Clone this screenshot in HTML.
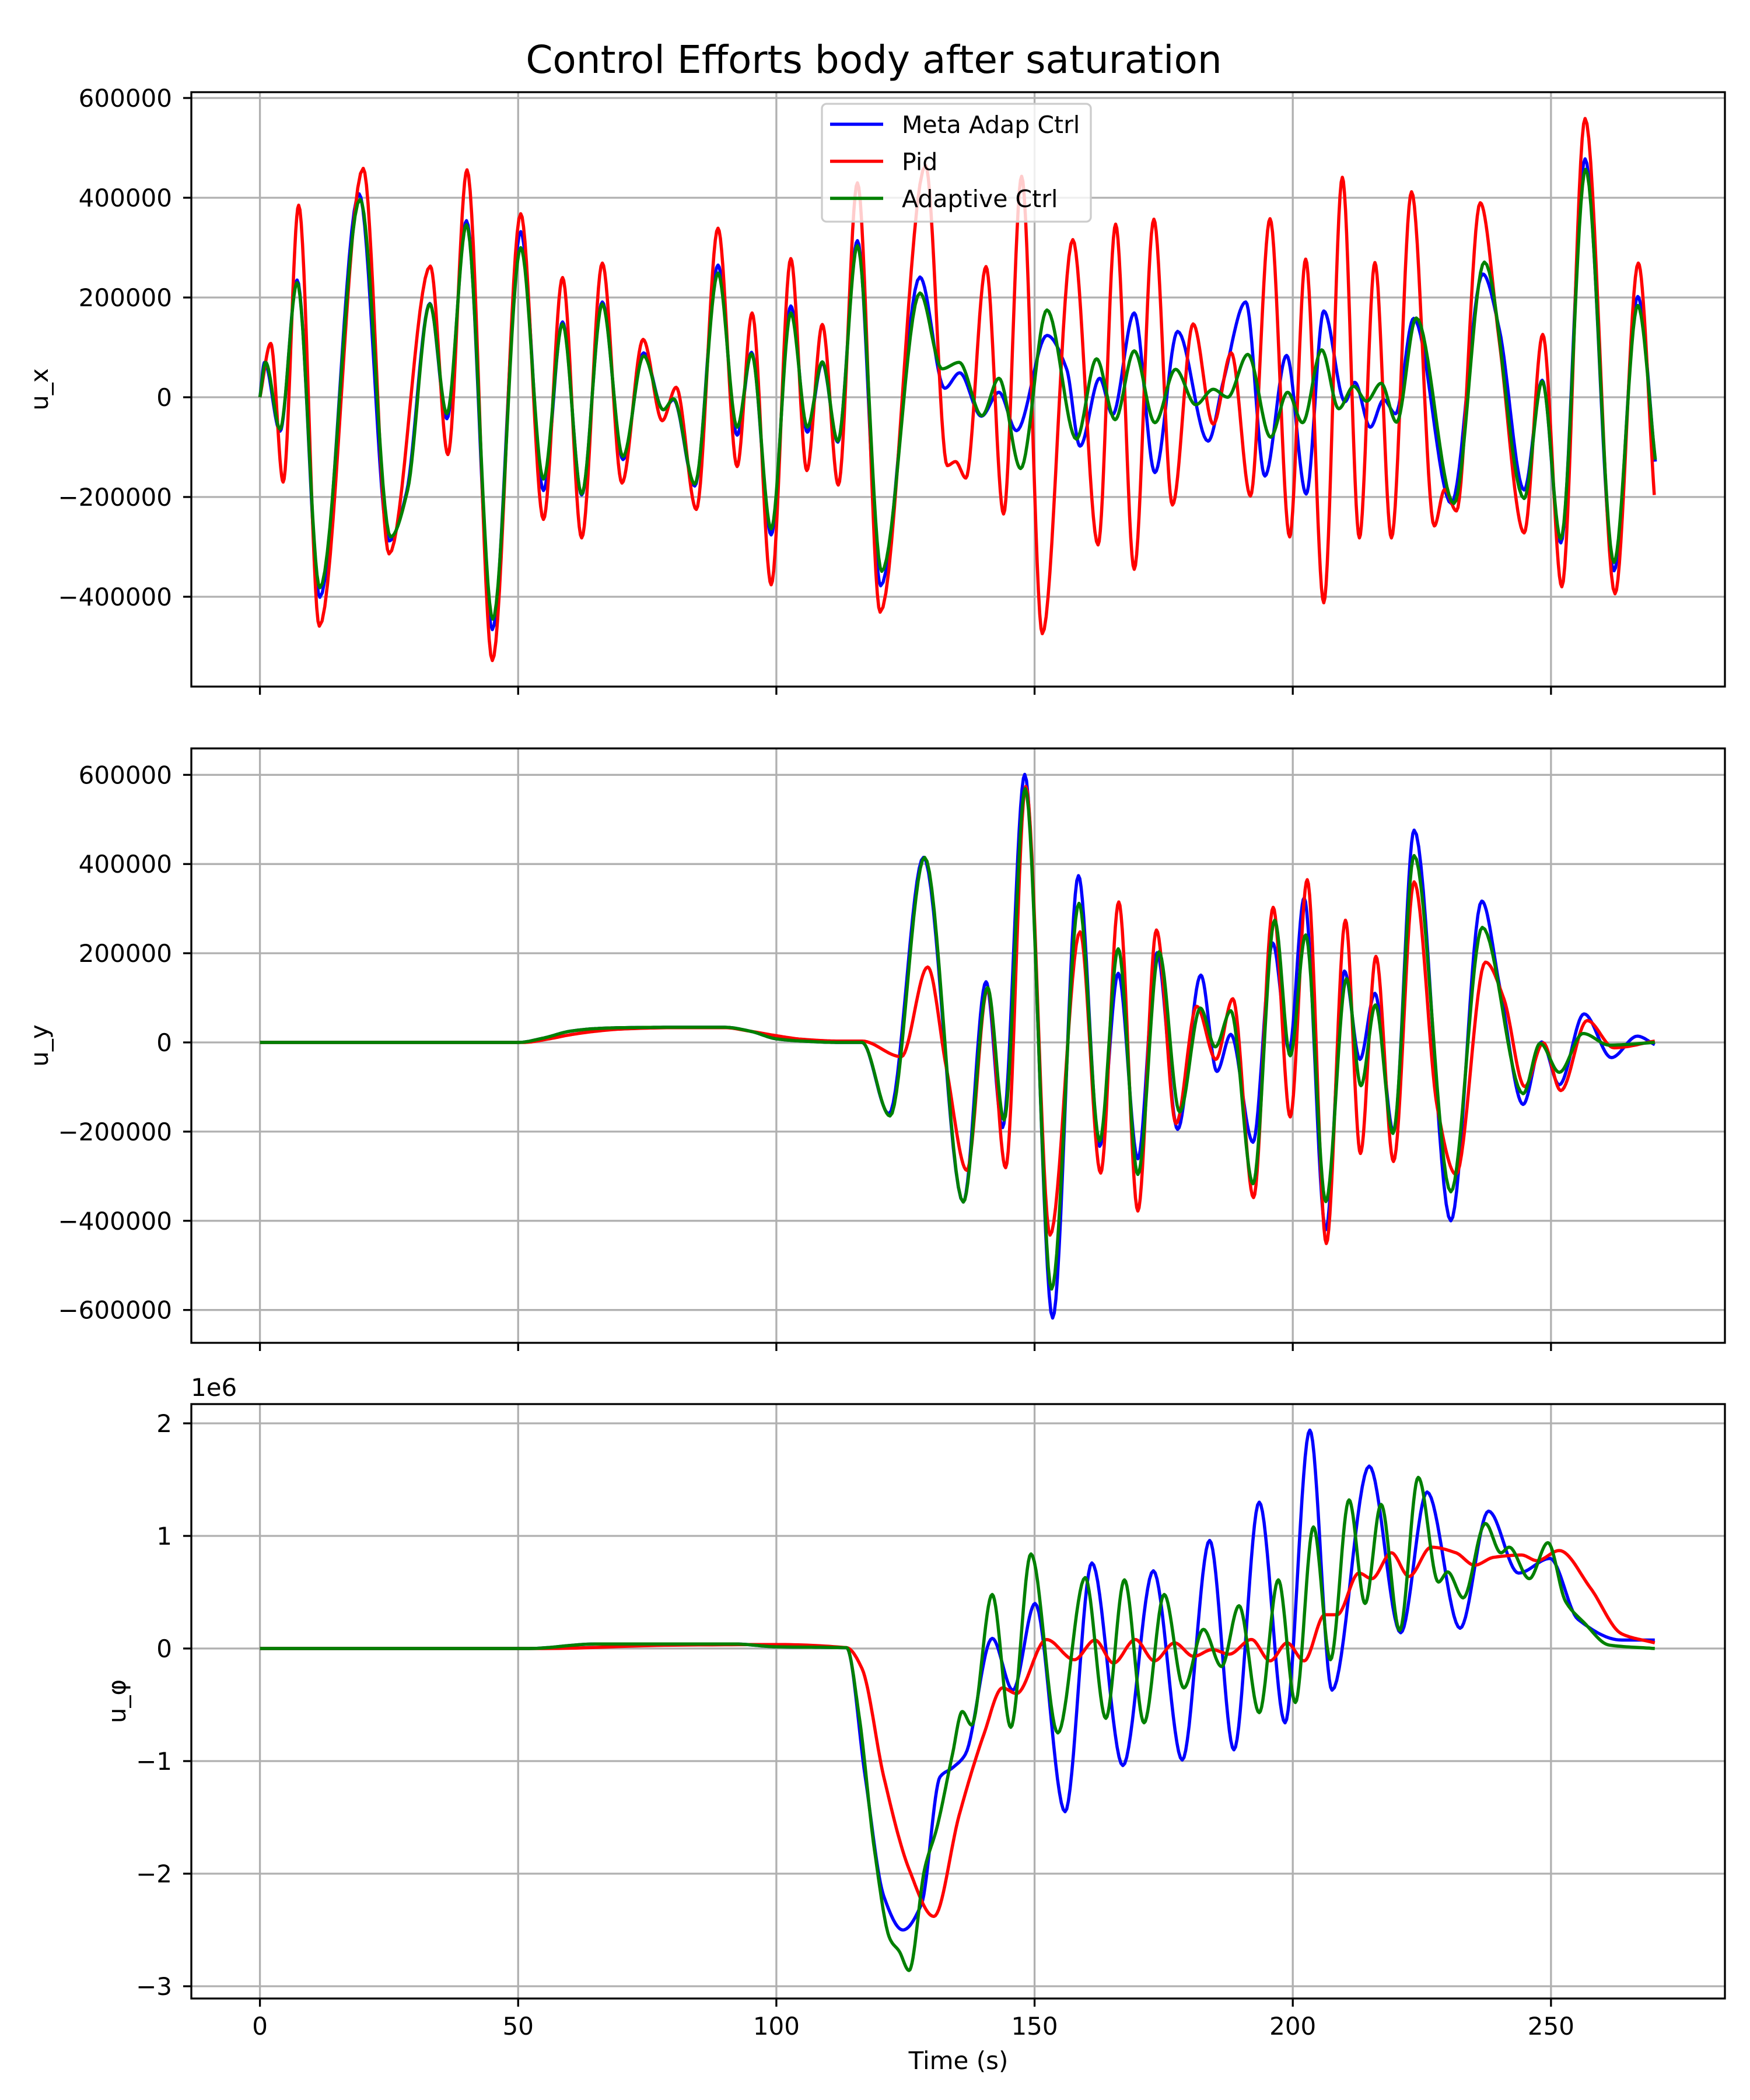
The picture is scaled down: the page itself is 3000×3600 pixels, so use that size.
<!DOCTYPE html>
<html><head><meta charset="utf-8">
<style>
html,body{margin:0;padding:0;background:#fff;}
svg{display:block;font-family:"DejaVu Sans","Liberation Sans",sans-serif;}
</style></head>
<body>
<svg id="fig" width="3000" height="3600" viewBox="0 0 3000 3600" xmlns="http://www.w3.org/2000/svg">
<rect width="3000" height="3600" fill="#fff"/>
<text x="1498" y="125" font-size="66" text-anchor="middle">Control Efforts body after saturation</text>
<g id="layer"></g>
</svg>
<script>
// ---------- time axis ticks ----------
const xTicks = [0, 50, 100, 150, 200, 250];

// ---------- panel 1 (u_x), values in thousands ----------
const uxTicks = [-400, -200, 0, 200, 400, 600];
const uxTickLabels = ["\u2212400000", "\u2212200000", "0", "200000", "400000", "600000"];
const uxMetaT = [0,0.9,3.9,7.2,11.6,19.2,25,28.4,32.9,36.2,40,45,50.5,54.9,58.6,62.3,66.3,70.3,74.3,78.1,80.1,84.2,88.7,92.4,95.2,99,102.8,106,108.9,111.9,115.7,120.2,127.8,132.6,135.5,139.7,143.1,146.5,152.4,156.2,158.8,162.6,165.1,169.3,173.3,177.7,183.6,186.6,190.9,194.6,198.8,202.6,206,210.1,212,215,217.6,219.9,223.4,230.7,236.8,240,244.8,248.3,251.9,256.6,262.2,266.8,270.2];
const uxMetaV = [0,70,-68,235,-401,408,-288,-190,188,-43,354,-466,332,-187,151,-196,191,-125,89,-25,-5,-178,265,-76,90,-276,183,-70,69,-90,314,-378,241,18,49,-38,10,-67,124,57,-98,38,-35,169,-151,132,-88,34,191,-158,84,-194,173,-9,30,-60,-5,-33,158,-213,247,136,-186,34,-292,478,-348,202,-129];
const uxPidT = [0,2.1,4.5,7.5,11.5,20,25,33,36.4,40.1,45,50.5,54.9,58.6,62.3,66.3,70.1,74.2,77.9,80.6,84.5,88.7,92.4,95.3,99,102.8,105.9,108.9,112,115.7,120.1,128.9,133.1,134.7,136.7,140.6,144,147.5,151.5,157.4,162.3,165.7,169.3,173.1,176.7,180.7,184.6,188.1,191.8,195.6,199.4,202.5,206,209.6,212.9,215.9,219.1,223,227.4,229.4,231.7,236.3,239.9,244.8,248.4,252.1,256.6,262.4,266.9,270];
const uxPidV = [0,108,-170,385,-459,459,-314,263,-115,456,-528,368,-245,240,-282,269,-172,116,-47,20,-225,339,-139,169,-376,278,-147,146,-176,430,-431,465,-137,-129,-162,262,-234,443,-474,316,-296,347,-345,357,-216,147,-54,89,-198,358,-280,277,-412,441,-282,270,-282,412,-258,-185,-228,390,120,-272,126,-380,559,-394,269,-196];
const uxAdaT = [0,1.1,3.9,7.2,11.6,19.4,25.3,28.6,32.9,36.2,40,45.1,50.5,54.9,58.6,62.3,66.3,70.3,74.3,78.1,80.1,84.2,88.7,92.4,95.2,99,102.8,106,108.9,111.9,115.7,120.4,127.8,132.1,135.4,139.8,143.1,147.3,152.4,158.1,162,165.6,169.3,173.3,177.3,181.2,184.6,187.4,191.3,195.7,199,201.9,205.6,208.9,211.8,214.3,217.1,220.1,223.9,231.2,237.1,244.8,248.3,251.9,256.7,262.2,266.8,270.2];
const uxAdaV = [0,70,-64,230,-382,397,-280,-186,187,-33,346,-445,300,-164,147,-194,187,-119,83,-25,-3,-174,249,-60,87,-264,169,-60,71,-88,304,-349,209,57,70,-37,38,-143,175,-84,77,-45,93,-51,56,-15,16,0,86,-80,10,-51,95,-23,22,-8,28,-50,159,-213,271,-203,32,-284,457,-331,184,-125];

// ---------- panel 2 (u_y), values in thousands ----------
const uyTicks = [-600, -400, -200, 0, 200, 400, 600];
const uyTickLabels = ["\u2212600000", "\u2212400000", "\u2212200000", "0", "200000", "400000", "600000"];
const uyMetaT = [0,50,55,60,65,70,80,90,95,100,105,112,116.6,121.8,128.5,136.2,140.6,143.8,148.1,153.5,158.5,162.6,166.2,170,173.7,177.7,182.2,185.3,188,192.3,196.1,199.3,202.2,206.4,210,213,215.9,219.5,223.5,230.6,236.6,240.1,244.6,248.2,251.6,256.4,261.7,266.7,270.1];
const uyMetaV = [0,0,10,25,31,33,34,34,25,8,3,0,0,-160,415,-358,136,-191,601,-618,374,-233,155,-261,201,-195,151,-65,18,-224,223,-17,324,-420,160,-38,110,-200,476,-400,317,123,-139,1,-95,64,-34,14,-5];
const uyPidT = [0,51,56,60,65,70,80,90,95,100,105,112,116.6,124.2,129.3,132.9,136.9,140.9,144.4,148.3,153,158.8,162.8,166.3,170,173.6,177.4,181.4,185.1,188.4,192.4,196.2,199.5,202.8,206.5,210.2,213.1,216.1,219.5,223.5,228,231.6,237.3,240.9,244.9,248.5,251.9,257,262.2,270.1];
const uyPidV = [0,0,8,17,25,30,33,33,25,15,7,3,3,-32,169,-56,-287,121,-281,574,-432,248,-293,315,-378,252,-182,81,-38,98,-348,303,-167,365,-451,274,-249,193,-267,360,-147,-296,180,97,-99,-1,-108,49,-12,3];
const uyAdaT = [0,50,55,60,65,70,80,90,95,100,105,112,116.6,122,128.7,136.2,140.9,144.1,148.2,153.3,158.6,162.6,166.2,170,174.1,178.1,182.1,185,188,192.3,196.5,199.5,202.5,206.4,210.4,213.2,216,219.4,223.5,230.6,236.7,244.6,247.9,251.6,256.2,261.3,270.1];
const uyAdaV = [0,0,10,25,31,33,34,34,25,8,3,0,0,-165,415,-358,123,-174,569,-553,312,-221,210,-296,203,-156,77,-10,71,-317,274,-30,241,-357,143,-97,84,-204,419,-335,258,-115,-2,-67,20,-6,0];

// ---------- panel 3 (u_phi), values in 1e6 ----------
const upTicks = [-3, -2, -1, 0, 1, 2];
const upTickLabels = ["\u22123", "\u22122", "\u22121", "0", "1", "2"];
const upMetaT = [0,52,65,80,92,100,113.6,117.2,120.8,124.5,128.1,131.7,134.1,136.6,141.8,145.8,150.1,155.9,161.1,167.1,173,178.6,183.9,188.6,193.5,198.5,203.3,207.6,214.8,220.9,226,232.4,237.9,243.7,249.8,255.2,263.7,270.1];
const upMetaV = [0,0,0.04,0.04,0.04,0.015,0.007,-1.14,-2.2,-2.5,-2.27,-1.14,-1.06,-0.94,0.09,-0.37,0.40,-1.45,0.76,-1.04,0.69,-0.99,0.96,-0.90,1.30,-0.66,1.94,-0.37,1.62,0.14,1.39,0.18,1.22,0.67,0.80,0.26,0.075,0.075];
const upPidT = [0,55,80,100,113.6,116.6,120.8,125.7,130.5,135.4,140.2,143.8,146.5,152.3,157.7,161.7,165.3,169.5,173.2,177.1,180.8,184.4,187.7,192,195.6,198.9,202.2,206.2,208.6,212.8,215.3,219.1,222.5,226.8,231.6,235.2,238.9,244.3,247.3,251.6,257.6,263.7,270.1];
const upPidV = [0,0,0.03,0.035,0.007,-0.18,-1.14,-1.96,-2.38,-1.48,-0.76,-0.35,-0.40,0.08,-0.10,0.075,-0.13,0.08,-0.11,0.05,-0.07,-0.01,-0.05,0.08,-0.11,0.05,-0.11,0.30,0.30,0.67,0.62,0.85,0.64,0.90,0.85,0.74,0.81,0.83,0.78,0.87,0.54,0.13,0.05];
const upAdaT = [0,52,65,80,92,100,113.6,116,119,122,123.8,125.7,128.7,131.1,134.1,136,137.8,141.8,145.4,149.3,154.5,159.8,163.8,167.4,171.2,175.1,178.9,182.7,186.2,189.6,193.5,197.2,200.5,204,207.3,210.9,214,217.1,220.7,224.3,228.2,230,233,237.3,240.3,241.9,245.8,249.4,252.8,256.4,261.3,270.1];
const upAdaV = [0,0,0.04,0.04,0.04,0.015,0.007,-0.59,-1.79,-2.58,-2.69,-2.86,-1.96,-1.59,-0.94,-0.56,-0.68,0.48,-0.70,0.84,-0.75,0.63,-0.62,0.61,-0.66,0.48,-0.35,0.17,-0.16,0.38,-0.57,0.61,-0.48,1.08,-0.10,1.32,0.40,1.28,0.16,1.52,0.59,0.68,0.45,1.11,0.85,0.90,0.62,0.94,0.42,0.23,0.03,0];

// ---------- layout ----------
const NS = "http://www.w3.org/2000/svg";
const layer = document.getElementById("layer");
const AX_L = 328, AX_R = 2957, AX_H = 1019;
const xScale = t => 445.6 + t * 8.853;

function mk(tag, attrs, parent) {
  const e = document.createElementNS(NS, tag);
  for (const k in attrs) e.setAttribute(k, attrs[k]);
  (parent || layer).appendChild(e);
  return e;
}

function monotonePath(ts, vs, xs, ys) {
  const n = ts.length, d = [], m = [];
  for (let i = 0; i < n - 1; i++) d.push((vs[i+1] - vs[i]) / (ts[i+1] - ts[i]));
  for (let i = 0; i < n; i++) {
    if (i === 0) m.push(d[0]);
    else if (i === n - 1) m.push(d[n-2]);
    else if (d[i-1] * d[i] <= 0) m.push(0);
    else m.push(2 / (1 / d[i-1] + 1 / d[i]));
  }
  let p = "M" + xs(ts[0]).toFixed(1) + "," + ys(vs[0]).toFixed(1);
  for (let i = 0; i < n - 1; i++) {
    const h = ts[i+1] - ts[i];
    for (let k = 1; k <= 16; k++) {
      const s = k / 16, s2 = s*s, s3 = s2*s;
      const v = (2*s3-3*s2+1)*vs[i] + (s3-2*s2+s)*h*m[i] + (-2*s3+3*s2)*vs[i+1] + (s3-s2)*h*m[i+1];
      p += "L" + xs(ts[i] + s*h).toFixed(1) + "," + ys(v).toFixed(1);
    }
  }
  return p;
}

function panel(idx, top, zeroY, pxPerUnit, ticks, labels, ylabel, ylabelX, series, showXLabels) {
  const ys = v => zeroY - v * pxPerUnit;
  const bot = top + AX_H;
  const g = mk("g", {});
  
  
  const clipId = "clip" + idx;
  const cp = mk("clipPath", {id: clipId}, g);
  mk("rect", {x: AX_L, y: top, width: AX_R - AX_L, height: AX_H}, cp);
  xTicks.forEach(t => {
    const l = mk("line", {x1: xScale(t), x2: xScale(t), y1: top, y2: bot, stroke: "#b0b0b0", "stroke-width": 3.3}, g);
    
    
  });
  ticks.forEach((v, i) => {
    const l = mk("line", {x1: AX_L, x2: AX_R, y1: ys(v), y2: ys(v), stroke: "#b0b0b0", "stroke-width": 3.3}, g);
    
    
    const tk = mk("line", {x1: AX_L - 14, x2: AX_L, y1: ys(v), y2: ys(v), stroke: "#000", "stroke-width": 3.3}, g);
    
    
    const tx = mk("text", {x: AX_L - 33, y: ys(v) + 15, "font-size": 42, "text-anchor": "end"}, g);
    tx.textContent = labels[i];
    
    
  });
  const sg = mk("g", {"clip-path": "url(#" + clipId + ")"}, g);
  series.forEach(s => {
    const p = mk("path", {d: monotonePath(s.t, s.v, xScale, ys), fill: "none", stroke: s.color, "stroke-width": 5.5, "stroke-linejoin": "round"}, sg);
    
    
  });
  const fr = mk("rect", {x: AX_L, y: top, width: AX_R - AX_L, height: AX_H, fill: "none", stroke: "#000", "stroke-width": 3.3}, g);
  
  
  xTicks.forEach(t => {
    const tk = mk("line", {x1: xScale(t), x2: xScale(t), y1: bot, y2: bot + 14, stroke: "#000", "stroke-width": 3.3}, g);
    
    
    if (showXLabels) {
      const tx = mk("text", {x: xScale(t), y: bot + 62, "font-size": 42, "text-anchor": "middle"}, g);
      tx.textContent = String(t);
      
      
    }
  });
  const cy = top + AX_H / 2;
  const yl = mk("text", {x: ylabelX, y: cy, "font-size": 42, "text-anchor": "middle", transform: "rotate(-90 " + ylabelX + " " + cy + ")"}, g);
  yl.textContent = ylabel;
  
  
}

panel(1, 158, 681, 171/200, uxTicks, uxTickLabels, "u_x", 82, [
  {t: uxMetaT, v: uxMetaV, color: "#0000ff", name: "line-meta-adap-ux"},
  {t: uxPidT, v: uxPidV, color: "#ff0000", name: "line-pid-ux"},
  {t: uxAdaT, v: uxAdaV, color: "#008000", name: "line-adaptive-ux"}], false);
panel(2, 1283, 1787, 152.9/200, uyTicks, uyTickLabels, "u_y", 82, [
  {t: uyMetaT, v: uyMetaV, color: "#0000ff", name: "line-meta-adap-uy"},
  {t: uyPidT, v: uyPidV, color: "#ff0000", name: "line-pid-uy"},
  {t: uyAdaT, v: uyAdaV, color: "#008000", name: "line-adaptive-uy"}], false);
panel(3, 2407, 2826, 193, upTicks, upTickLabels, "u_\u03c6", 215, [
  {t: upMetaT, v: upMetaV, color: "#0000ff", name: "line-meta-adap-uphi"},
  {t: upPidT, v: upPidV, color: "#ff0000", name: "line-pid-uphi"},
  {t: upAdaT, v: upAdaV, color: "#008000", name: "line-adaptive-uphi"}], true);

const off = mk("text", {x: 327, y: 2393, "font-size": 42});
off.textContent = "1e6";


const xt = mk("text", {x: 1643, y: 3547, "font-size": 42, "text-anchor": "middle"});
xt.textContent = "Time (s)";



const lg = mk("g", {});


mk("rect", {x: 1409, y: 178, width: 461, height: 202, rx: 8, fill: "#fff", "fill-opacity": 0.8, stroke: "#cccccc", "stroke-width": 3.3}, lg);
const legNames = ["Meta Adap Ctrl", "Pid", "Adaptive Ctrl"];
const legColors = ["#0000ff", "#ff0000", "#008000"];
legNames.forEach((nm, i) => {
  const y = 213 + i * 63.5;
  const ln = mk("line", {x1: 1423, x2: 1514, y1: y, y2: y, stroke: legColors[i], "stroke-width": 5.5}, lg);
  
  
  const tx = mk("text", {x: 1546, y: y + 15, "font-size": 41}, lg);
  tx.textContent = nm;
  
  
});
</script>
</body></html>
